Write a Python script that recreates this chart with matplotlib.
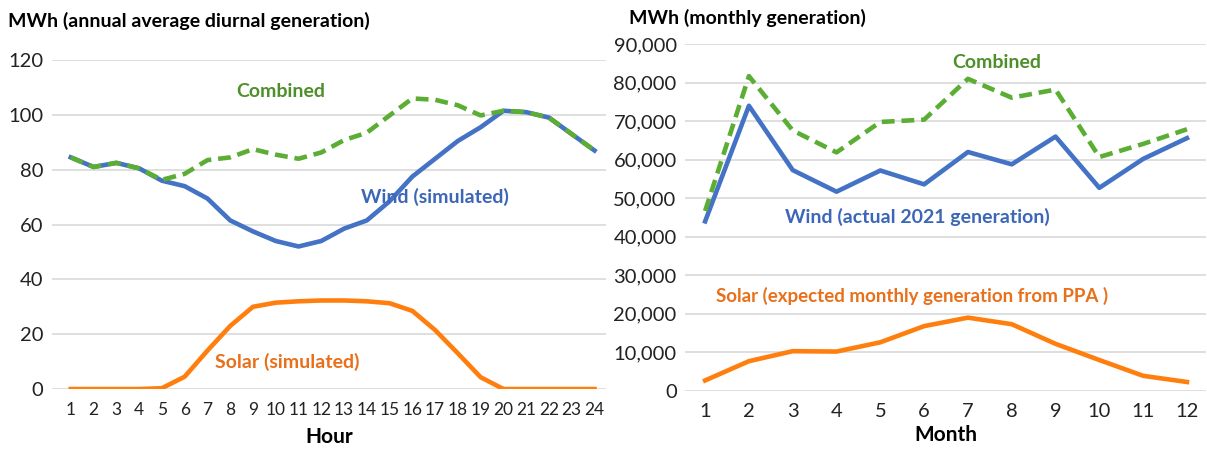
import matplotlib.pyplot as plt
from matplotlib.ticker import FuncFormatter

plt.rcParams['font.family'] = ['Lato', 'DejaVu Sans']

# Left chart: annual average diurnal generation (MWh)
hours = list(range(1, 25))
wind_hourly = [84.5, 81, 82.5, 80.5, 76, 74, 69.5, 61.5, 57.5, 54, 52, 54,
               58.5, 61.5, 68.5, 77.5, 84, 90.5, 95.5, 101.5, 101, 99, 93, 87]
solar_hourly = [0, 0, 0, 0, 0.3, 4.5, 14, 23, 30, 31.5, 32, 32.3,
                32.3, 32, 31.3, 28.5, 21.5, 13, 4.3, 0, 0, 0, 0, 0]
combined_hourly = [84.5, 81, 82.5, 80.5, 76.3, 78.5, 83.5, 84.5, 87.5, 85.5, 84, 86.3,
                   90.8, 93.5, 99.8, 106, 105.5, 103.5, 99.8, 101.5, 101, 99, 93, 87]

# Right chart: monthly generation (MWh)
months = list(range(1, 13))
wind_monthly = [44000, 74000, 57300, 51700, 57200, 53600, 62000, 58800, 66000, 52700, 60200, 65600]
solar_monthly = [2700, 7700, 10300, 10200, 12600, 16800, 19000, 17300, 12200, 8000, 3900, 2300]
combined_monthly = [46700, 81700, 67600, 61900, 69800, 70400, 81000, 76100, 78200, 60700, 64100, 67900]

blue = '#4472C4'
orange = '#FF7F0E'
green = '#5BAE33'
grid_c = '#D9D9D9'

fig = plt.figure(figsize=(12.07, 4.55), dpi=100)
ax1 = fig.add_axes([0.043, 0.145, 0.459, 0.723])
ax2 = fig.add_axes([0.5675, 0.141, 0.4315, 0.762])

def style(ax, xsize):
    for s in ax.spines.values():
        s.set_visible(False)
    ax.grid(axis='y', color=grid_c, linewidth=1.2)
    ax.set_axisbelow(True)
    ax.tick_params(length=0, labelsize=14.5, pad=6)
    ax.tick_params(axis='x', pad=9, labelsize=xsize)
    for lbl in ax.get_xticklabels() + ax.get_yticklabels():
        lbl.set_color('#222222')

# left
ax1.plot(hours, wind_hourly, color=blue, lw=3.3)
ax1.plot(hours, solar_hourly, color=orange, lw=3.3)
ax1.plot(hours, combined_hourly, color=green, lw=3.3, dashes=(2.8, 1.5))
ax1.set_xlim(0.17, 24.5)
ax1.set_ylim(0, 120)
ax1.set_xticks(hours)
ax1.set_yticks(range(0, 121, 20))
style(ax1, 12.5)
ax1.set_xlabel('Hour', fontsize=15, fontweight='bold', labelpad=7)
ax1.text(10.2, 108.4, 'Combined', color='#4E8F2A', fontsize=14, fontweight='bold', ha='center', va='center')
ax1.text(17.0, 70, 'Wind (simulated)', color='#3C66B8', fontsize=14, fontweight='bold', ha='center', va='center')
ax1.text(10.5, 9.9, 'Solar (simulated)', color='#E8701A', fontsize=14, fontweight='bold', ha='center', va='center')
fig.text(0.007, 0.955, 'MWh (annual average diurnal generation)', fontsize=14, fontweight='bold', va='center')

# right
ax2.plot(months, wind_monthly, color=blue, lw=3.3)
ax2.plot(months, solar_monthly, color=orange, lw=3.3)
ax2.plot(months, combined_monthly, color=green, lw=3.3, dashes=(2.8, 1.5))
ax2.set_xlim(0.54, 12.43)
ax2.set_ylim(0, 90000)
ax2.set_xticks(months)
ax2.set_yticks(range(0, 90001, 10000))
ax2.yaxis.set_major_formatter(FuncFormatter(lambda v, p: f'{int(v):,}'))
style(ax2, 14.5)
ax2.set_xlabel('Month', fontsize=15, fontweight='bold', labelpad=3)
ax2.text(7.65, 85200, 'Combined', color='#4E8F2A', fontsize=14, fontweight='bold', ha='center', va='center')
ax2.text(5.85, 45200, 'Wind (actual 2021 generation)', color='#3C66B8', fontsize=14, fontweight='bold', ha='center', va='center')
ax2.text(5.72, 24700, 'Solar (expected monthly generation from PPA )', color='#E8701A', fontsize=13.5, fontweight='bold', ha='center', va='center')
fig.text(0.521, 0.96, 'MWh (monthly generation)', fontsize=14, fontweight='bold', va='center')

fig.savefig('out.png', dpi=100, facecolor='white')
